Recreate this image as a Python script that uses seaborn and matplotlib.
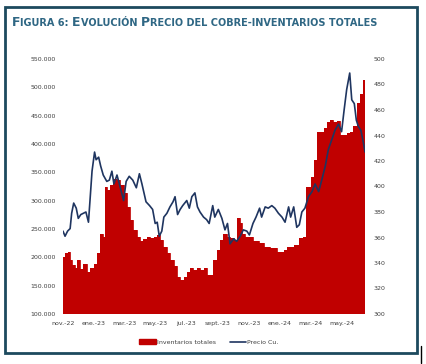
import matplotlib
matplotlib.use("Agg")
import matplotlib.pyplot as plt
import matplotlib.ticker as mticker
from matplotlib.patches import Rectangle, Patch
from matplotlib.lines import Line2D
import seaborn as sns
import pandas as pd

# ---------------- data ----------------
inv_dates = [
    "2022-11-01", "2022-11-05", "2022-11-10", "2022-11-14", "2022-11-19", "2022-11-25", "2022-11-28",
    "2022-12-05", "2022-12-11", "2022-12-18", "2022-12-24", "2022-12-31",
    "2023-01-06", "2023-01-12", "2023-01-18", "2023-01-23", "2023-01-26",
    "2023-02-02", "2023-02-08", "2023-02-15", "2023-02-21", "2023-02-28",
    "2023-03-06", "2023-03-13", "2023-03-19", "2023-03-26",
    "2023-04-01", "2023-04-08", "2023-04-15", "2023-04-21", "2023-04-28",
    "2023-05-04", "2023-05-11", "2023-05-17", "2023-05-24", "2023-05-30",
    "2023-06-06", "2023-06-12", "2023-06-19", "2023-06-26",
    "2023-07-02", "2023-07-09", "2023-07-15", "2023-07-22", "2023-07-28",
    "2023-08-04", "2023-08-10", "2023-08-17", "2023-08-23", "2023-08-30",
    "2023-09-06", "2023-09-12", "2023-09-19", "2023-09-25",
    "2023-10-02", "2023-10-08", "2023-10-14", "2023-10-18", "2023-10-25",
    "2023-11-01", "2023-11-10", "2023-11-20", "2023-11-30",
    "2023-12-13", "2023-12-26",
    "2024-01-08", "2024-01-15", "2024-01-28",
    "2024-02-07", "2024-02-16", "2024-02-22",
    "2024-03-01", "2024-03-07", "2024-03-13", "2024-03-20", "2024-03-27",
    "2024-04-02", "2024-04-09", "2024-04-15", "2024-04-22", "2024-04-28",
    "2024-05-05", "2024-05-11", "2024-05-18", "2024-05-24", "2024-05-31",
    "2024-06-06", "2024-06-13", "2024-06-16",
]
inv_values = [  # thousands of tonnes
    201, 207, 210, 195, 186, 181, 195,
    179, 188, 175, 181, 189,
    207, 242, 236, 325, 319,
    328, 339, 336, 328, 313,
    289, 266, 248, 236,
    228, 232, 236, 234, 236,
    239, 231, 219, 207, 195,
    184, 166, 160, 166,
    175, 181, 178, 182, 178,
    181, 169, 169, 195, 213,
    231, 242, 236, 234,
    231, 269, 260, 242, 236,
    236, 228, 225, 219,
    216, 210,
    213, 219, 222,
    234, 236, 325,
    342, 372, 422, 422, 428,
    439, 442, 439, 440, 416,
    416, 419, 422, 431, 472,
    489, 513, 516,
]

price_dates = [
    "2022-11-01", "2022-11-05", "2022-11-10", "2022-11-15", "2022-11-18", "2022-11-22", "2022-11-27",
    "2022-12-01", "2022-12-06", "2022-12-11", "2022-12-16", "2022-12-21", "2022-12-24", "2022-12-28",
    "2023-01-02", "2023-01-05", "2023-01-10", "2023-01-14", "2023-01-19", "2023-01-26", "2023-01-31",
    "2023-02-05", "2023-02-09", "2023-02-15", "2023-02-21", "2023-02-28",
    "2023-03-05", "2023-03-11", "2023-03-18", "2023-03-25", "2023-03-31",
    "2023-04-05", "2023-04-09", "2023-04-13", "2023-04-20", "2023-04-26",
    "2023-05-01", "2023-05-05", "2023-05-09", "2023-05-14", "2023-05-18", "2023-05-24", "2023-05-30",
    "2023-06-05", "2023-06-09", "2023-06-14", "2023-06-19", "2023-06-24",
    "2023-07-02", "2023-07-07", "2023-07-12", "2023-07-18", "2023-07-23", "2023-07-28",
    "2023-08-04", "2023-08-10", "2023-08-15", "2023-08-22", "2023-08-26",
    "2023-09-02", "2023-09-09", "2023-09-15", "2023-09-20", "2023-09-25",
    "2023-10-02", "2023-10-08", "2023-10-15", "2023-10-21", "2023-10-28",
    "2023-11-02", "2023-11-09", "2023-11-15", "2023-11-22", "2023-11-26",
    "2023-12-03", "2023-12-09", "2023-12-16", "2023-12-22", "2023-12-29",
    "2024-01-05", "2024-01-11", "2024-01-18", "2024-01-22", "2024-01-28",
    "2024-02-03", "2024-02-08", "2024-02-13", "2024-02-19", "2024-02-26",
    "2024-03-04", "2024-03-10", "2024-03-17", "2024-03-23", "2024-03-30",
    "2024-04-05", "2024-04-12", "2024-04-18", "2024-04-25",
    "2024-05-01", "2024-05-06", "2024-05-11", "2024-05-17", "2024-05-21", "2024-05-26", "2024-05-30",
    "2024-06-03", "2024-06-08", "2024-06-13", "2024-06-16",
]
price_values = [  # US cents per pound
    365, 361, 365, 367, 379, 387, 383,
    375, 378, 379, 380, 372, 389, 412,
    427, 421, 423, 416, 409, 404, 405,
    412, 402, 409, 400, 389,
    404, 408, 405, 399, 410,
    402, 395, 388, 385, 382,
    371, 372, 361, 365, 376, 379, 384,
    388, 392, 378, 382, 385,
    389, 383, 392, 395, 384, 380,
    376, 374, 371, 385, 376,
    382, 375, 366, 371, 355,
    359, 357, 361, 366, 365,
    362, 371, 376, 383, 376,
    384, 383, 385, 383, 379,
    376, 372, 384, 376, 384,
    368, 370, 380, 383, 392,
    396, 402, 396, 405, 416,
    429, 437, 444, 449,
    443, 460, 476, 489, 468, 465, 452,
    447, 444, 434, 427,
]

tick_dates = ["2022-11-01", "2023-01-01", "2023-03-01", "2023-05-01", "2023-07-01",
              "2023-09-01", "2023-11-01", "2024-01-01", "2024-03-01", "2024-05-01"]
tick_labels = ["nov.-22", "ene.-23", "mar.-23", "may.-23", "jul.-23",
               "sept.-23", "nov.-23", "ene.-24", "mar.-24", "may.-24"]

title_pieces = [("F", True), ("IGURA 6: ", False), ("E", True), ("VOLUCIÓN ", False),
                ("P", True), ("RECIO DEL COBRE-INVENTARIOS TOTALES", False)]
legend_labels = ["Inventarios totales", "Precio Cu."]

# ---------------- style ----------------
RED = "#c00000"
NAVY = "#1f3560"
TITLE_C = "#2f6784"
FRAME_C = "#1d4a5e"
TICK_C = "#404040"

sns.set_style("white")
plt.rcParams["font.family"] = ["DejaVu Sans"]

W, H = 426, 364
fig = plt.figure(figsize=(W / 100, H / 100), dpi=100)

ax = fig.add_axes([63 / W, 1 - 314 / H, 302 / W, 255 / H])

inv_df = pd.DataFrame({"fecha": pd.to_datetime(inv_dates),
                       "inv": [v * 1000 for v in inv_values]})
price_df = pd.DataFrame({"fecha": pd.to_datetime(price_dates), "precio": price_values})

ax.fill_between(inv_df["fecha"], inv_df["inv"], 100000, step="post", color=RED, lw=0)
sns.lineplot(data=inv_df, x="fecha", y="inv", ax=ax, drawstyle="steps-post",
             color=RED, lw=0.6)
ax.set_ylim(100000, 550000)
ax.set_yticks(range(100000, 550001, 50000))
ax.yaxis.set_major_formatter(mticker.FuncFormatter(lambda v, p: f"{int(v):,}".replace(",", ".")))

ax2 = ax.twinx()
sns.lineplot(data=price_df, x="fecha", y="precio", ax=ax2, color=NAVY, lw=1.2)
ax2.set_ylim(300, 500)
ax2.set_yticks(range(300, 501, 20))

ax.set_xlim(pd.Timestamp("2022-11-01"), pd.Timestamp("2024-06-16"))
ax.set_xticks(pd.to_datetime(tick_dates))
ax.set_xticklabels(tick_labels)

for a in (ax, ax2):
    a.set_xlabel("")
    a.set_ylabel("")
    for s in a.spines.values():
        s.set_visible(False)
    a.grid(False)
    a.set_facecolor("none")
ax.tick_params(axis="both", length=0, labelsize=4.5, labelcolor=TICK_C)
ax.tick_params(axis="y", pad=5)
ax.tick_params(axis="x", pad=5)
ax2.tick_params(axis="y", length=0, labelsize=4.5, labelcolor=TICK_C, pad=6)

# legend
handles = [Patch(facecolor=RED, edgecolor=RED, label=legend_labels[0]),
           Line2D([], [], color=NAVY, lw=1.2, label=legend_labels[1])]
fig.legend(handles=handles, loc="center", bbox_to_anchor=(209 / W, 1 - 342 / H), ncol=2,
           frameon=False, fontsize=4.5, handlelength=2.6, handleheight=0.8,
           handletextpad=0.2, columnspacing=2.2, labelcolor=TICK_C)

# frame
fig.patches.append(Rectangle((5 / W, 1 - 353 / H), 412 / W, 346 / H, transform=fig.transFigure,
                             fill=False, edgecolor=FRAME_C, lw=2, zorder=10))
fig.add_artist(Line2D([421 / W, 421 / W], [1 - 346 / H, 1 - 363 / H], transform=fig.transFigure,
                      color="black", lw=1))

# title in small caps
fig.canvas.draw()
renderer = fig.canvas.get_renderer()


def draw_title(big, small, draw=True):
    x = 12.0
    arts = []
    for txt, is_big in title_pieces:
        size = big if is_big else small
        t = fig.text(x / W, 1 - 26.5 / H, txt, fontsize=size, fontweight="bold",
                     color=TITLE_C, va="baseline", ha="left")
        bb = t.get_window_extent(renderer=renderer)
        w = bb.width
        if txt.endswith(" "):
            sp = fig.text(0, 0, "a a", fontsize=size, fontweight="bold")
            sp2 = fig.text(0, 0, "aa", fontsize=size, fontweight="bold")
            spw = sp.get_window_extent(renderer=renderer).width - sp2.get_window_extent(renderer=renderer).width
            sp.remove()
            sp2.remove()
            t2 = fig.text(0, 0, txt.rstrip(), fontsize=size, fontweight="bold")
            w = t2.get_window_extent(renderer=renderer).width + spw
            t2.remove()
        x += w
        arts.append(t)
    return x, arts


end, arts = draw_title(8, 6.3)
for a in arts:
    a.remove()
scale = (377 - 12) / (end - 12)
draw_title(8 * scale, 6.3 * scale)

fig.savefig("out.png", dpi=100)
